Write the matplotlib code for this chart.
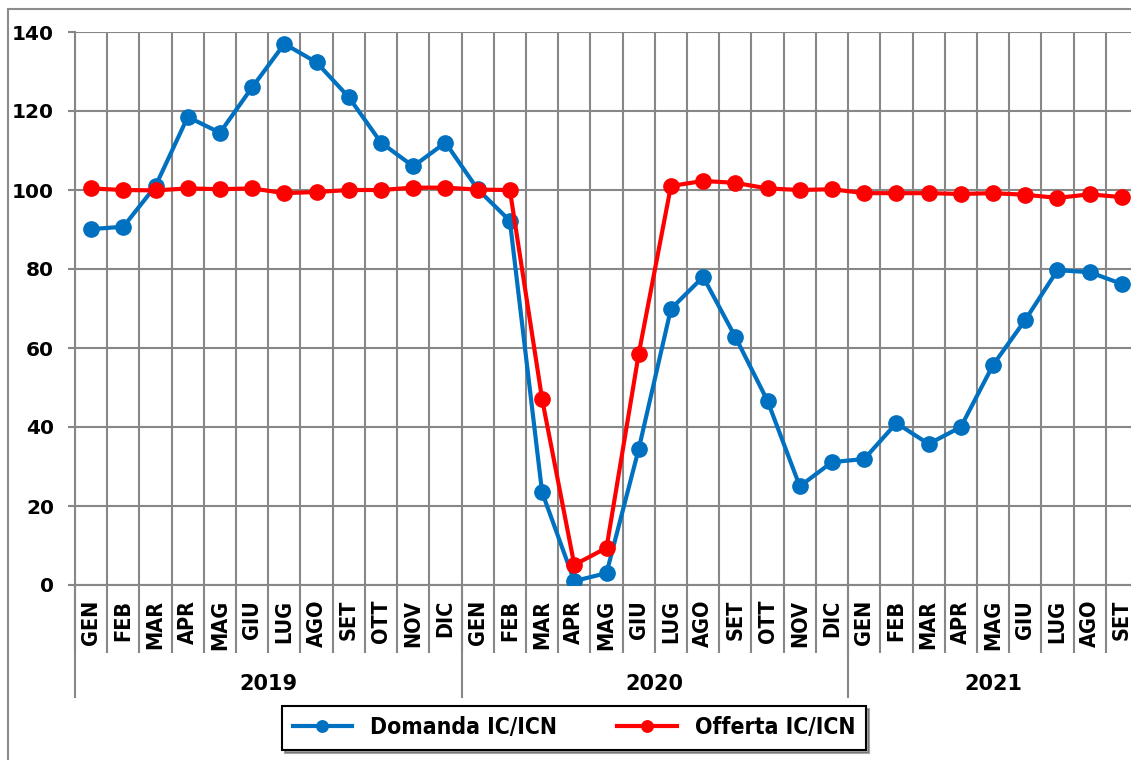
import numpy as np
import matplotlib
matplotlib.use("Agg")
import matplotlib.pyplot as plt
from matplotlib.patches import Rectangle

months = ["GEN", "FEB", "MAR", "APR", "MAG", "GIU", "LUG", "AGO", "SET", "OTT", "NOV", "DIC"]
years = ["2019", "2020", "2021"]
months_per_year = [12, 12, 9]
labels = months + months + months[:9]

domanda = [90.1, 90.7, 101.0, 118.5, 114.5, 126.0, 137.0, 132.3, 123.5, 112.0, 106.0, 112.0,
           100.2, 92.2, 23.5, 1.0, 3.0, 34.4, 69.9, 78.0, 62.8, 46.6, 25.0, 31.1,
           31.9, 41.0, 35.7, 40.0, 55.7, 67.1, 79.7, 79.2, 76.2]
offerta = [100.4, 100.0, 99.9, 100.4, 100.2, 100.4, 99.2, 99.5, 100.0, 100.0, 100.6, 100.6,
           100.1, 100.0, 47.1, 5.1, 9.4, 58.5, 101.0, 102.3, 101.8, 100.4, 100.0, 100.2,
           99.2, 99.2, 99.2, 99.0, 99.2, 98.8, 98.0, 98.9, 98.2]

grid_col = "#878787"
fig = plt.figure(figsize=(11.31, 7.60), dpi=100)
ax = fig.add_axes([75 / 1131, 175 / 760, 1063 / 1131, 553 / 760])

x = np.arange(len(labels))
ax.plot(x, domanda, "-o", color="#0070C0", lw=3, ms=11, label="Domanda IC/ICN", zorder=3)
ax.plot(x, offerta, "-o", color="#FF0000", lw=3, ms=11, label="Offerta IC/ICN", zorder=4)

ax.set_xlim(-0.5, len(labels) - 0.5)
ax.set_ylim(0, 140)
ax.set_yticks(range(0, 141, 20))
ax.set_xticks(np.arange(-0.5, len(labels), 1))
ax.set_xticklabels([])
ax.grid(True, color=grid_col, lw=1.5)
ax.set_axisbelow(True)
for s in ["top", "right"]:
    ax.spines[s].set_visible(False)
for s in ["left", "bottom"]:
    ax.spines[s].set_color(grid_col)
    ax.spines[s].set_linewidth(1.5)
ax.tick_params(axis="x", length=49, width=1.5, color=grid_col, direction="out")
ax.tick_params(axis="y", length=5, width=1.5, color=grid_col, pad=10)
for t in ax.get_yticklabels():
    t.set_fontsize(14.5)
    t.set_fontweight("bold")

tr = ax.get_xaxis_transform()
for i, m in enumerate(labels):
    ax.text(i, -0.027, m, transform=tr, rotation=90, ha="center", va="top",
            fontsize=15.5, fontweight="bold", fontstretch="condensed")

start = -0.5
for y, n in zip(years, months_per_year):
    ax.plot([start, start], [0, -0.2025], transform=tr, color=grid_col, lw=1.5, clip_on=False)
    ax.text(start + n / 2, -0.179, y, transform=tr, ha="center", va="center",
            fontsize=15, fontweight="bold")
    start += n

fig.patches.append(Rectangle((8 / 1131, -0.1), 1.2, 0.988 + 0.1, transform=fig.transFigure,
                             fill=False, edgecolor="#8c8c8c", lw=1.5))

leg = fig.legend(loc="center", bbox_to_anchor=(574 / 1131, 32 / 760), ncol=2,
                 prop={"weight": "bold", "size": 16.5, "stretch": "condensed"},
                 frameon=True, fancybox=False, shadow=True, markerscale=0.75,
                 handlelength=2.6, columnspacing=2.6, borderpad=0.45)
leg.get_frame().set_edgecolor("black")
leg.get_frame().set_linewidth(1.5)

fig.savefig("out.png", dpi=100)
